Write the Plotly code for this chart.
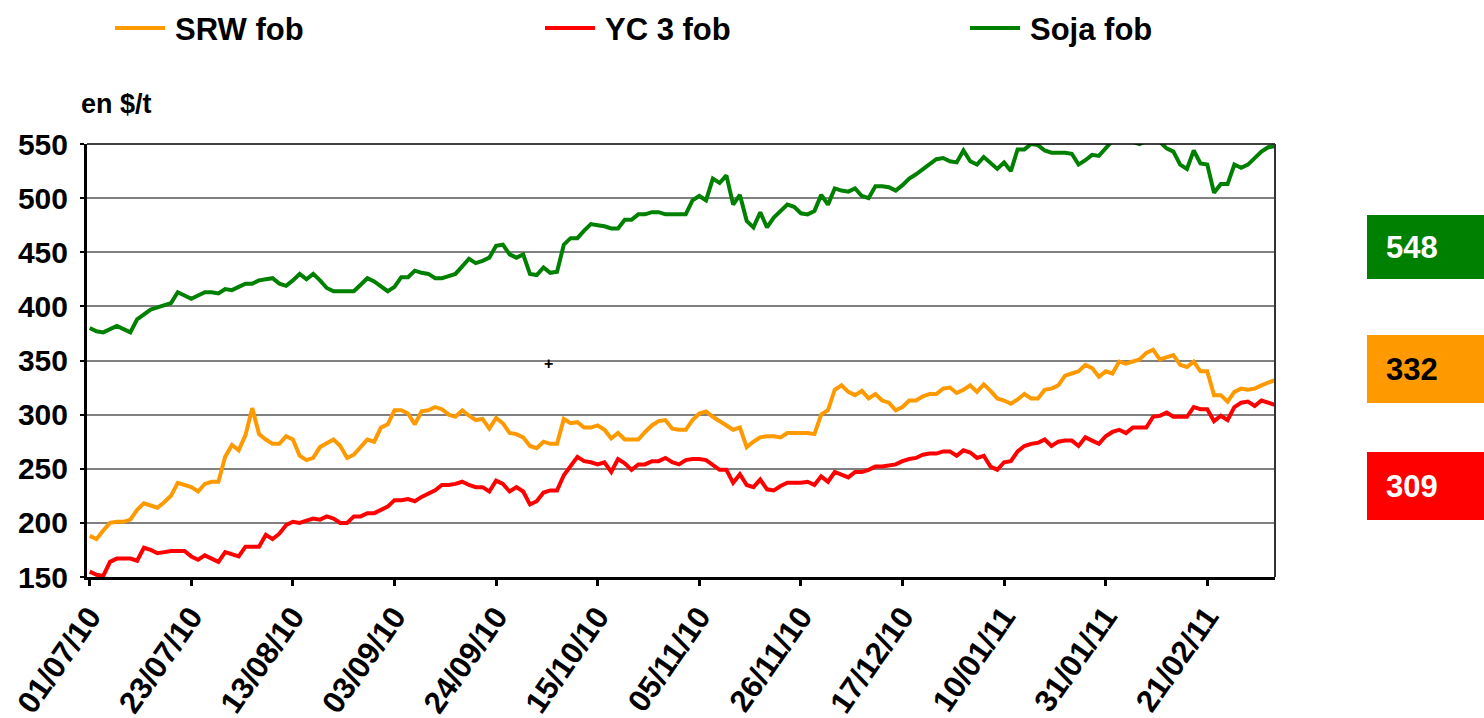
import plotly.graph_objects as go
import pandas as pd

# ---------------- data ----------------
DATES = [d.strftime("%d/%m/%y") for d in pd.bdate_range(
    "2010-07-01", "2011-03-07", freq="C", holidays=["2010-07-05", "2010-12-24"])]

TICK_LABELS = ["01/07/10", "23/07/10", "13/08/10", "03/09/10", "24/09/10", "15/10/10",
               "05/11/10", "26/11/10", "17/12/10", "10/01/11", "31/01/11", "21/02/11"]

SERIES_NAMES = ["SRW fob", "YC 3 fob", "Soja fob"]
SERIES_COLORS = ["#FF9900", "#FF0000", "#008000"]

SRW = [188, 185, 193, 200, 201, 201, 203, 212, 218, 216, 214, 219, 225, 237, 235, 233, 229, 236, 238, 238,
       261, 272, 267, 281, 306, 282, 277, 273, 273, 280, 277, 262, 258, 260, 270, 273, 277, 271, 260, 263,
       270, 277, 275, 288, 291, 304, 304, 301, 291, 303, 304, 307, 305, 300, 298, 304, 299, 295, 296, 287,
       297, 292, 283, 282, 279, 271, 269, 275, 273, 273, 296, 292, 293, 288, 288, 290, 286, 278, 283, 277,
       277, 277, 284, 290, 294, 295, 287, 286, 286, 295, 301, 303, 298, 294, 291, 286, 288, 270, 275, 279,
       280, 280, 279, 283, 283, 283, 283, 282, 300, 304, 323, 327, 321, 318, 322, 315, 319, 313, 311, 304,
       307, 313, 313, 317, 319, 319, 324, 325, 320, 323, 327, 321, 328, 322, 315, 313, 310, 314, 319, 315,
       315, 323, 324, 327, 336, 338, 340, 346, 343, 335, 340, 338, 349, 347, 349, 351, 357, 360, 351, 353,
       355, 346, 344, 349, 340, 340, 318, 318, 312, 321, 324, 323, 324, 327, 330, 332]

YC3 = [155, 152, 151, 164, 167, 167, 167, 165, 177, 175, 172, 173, 174, 174, 174, 169, 166, 170, 167, 164,
       173, 171, 169, 178, 178, 178, 189, 185, 190, 198, 201, 200, 202, 204, 203, 206, 204, 200, 200, 206,
       206, 209, 209, 212, 215, 221, 221, 222, 220, 224, 227, 230, 235, 235, 236, 238, 235, 233, 233, 229,
       239, 236, 229, 233, 229, 217, 220, 228, 230, 230, 244, 253, 261, 257, 256, 254, 256, 247, 259, 255,
       249, 254, 254, 257, 257, 260, 256, 254, 258, 259, 259, 258, 253, 249, 249, 237, 245, 235, 233, 240,
       231, 230, 234, 237, 237, 237, 238, 235, 243, 238, 247, 244, 242, 247, 247, 249, 252, 252, 253, 254,
       257, 259, 260, 263, 264, 264, 266, 266, 262, 267, 265, 260, 262, 252, 249, 256, 257, 266, 271, 273,
       274, 277, 271, 275, 276, 276, 271, 279, 276, 273, 280, 284, 286, 283, 288, 288, 288, 298, 299, 302,
       298, 298, 298, 307, 305, 305, 294, 299, 295, 307, 311, 312, 308, 313, 311, 309]

SOJA = [380, 377, 376, 379, 382, 379, 376, 388, 393, 397, 399, 401, 403, 413, 410, 407, 410, 413, 413, 412,
        416, 415, 418, 421, 421, 424, 425, 426, 421, 419, 424, 430, 425, 430, 424, 417, 414, 414, 414, 414,
        420, 426, 423, 418, 414, 418, 427, 427, 433, 431, 430, 426, 426, 428, 430, 437, 444, 440, 442, 445,
        456, 457, 448, 445, 448, 430, 429, 436, 431, 432, 457, 463, 463, 470, 476, 475, 474, 472, 472, 480,
        480, 485, 485, 487, 487, 485, 485, 485, 485, 498, 502, 498, 518, 514, 521, 494, 503, 479, 473, 487,
        473, 482, 488, 494, 492, 486, 485, 488, 503, 494, 509, 507, 506, 509, 502, 500, 511, 511, 510, 507,
        512, 518, 522, 527, 532, 536, 537, 534, 533, 544, 534, 531, 538, 532, 527, 533, 525, 545, 545, 550,
        549, 544, 542, 542, 542, 541, 531, 535, 540, 539, 546, 553, 556, 555, 552, 550, 553, 555, 552, 546,
        543, 531, 527, 544, 532, 531, 505, 513, 513, 531, 528, 531, 537, 543, 547, 548]

Y_TICKS = [150, 200, 250, 300, 350, 400, 450, 500, 550]
UNIT_LABEL = "en $/t"

# ---------------- layout helpers ----------------
PAGE_W, PAGE_H = 1484, 718
L, R, T, B = 87, 1275, 144, 577    # plot area in page pixels


def px(x):
    return (x - L) / (R - L)


def py(y):
    return (B - y) / (B - T)


FONT = "Liberation Sans, Arial, sans-serif"

fig = go.Figure()
for name, color, vals in zip(SERIES_NAMES, SERIES_COLORS, [SRW, YC3, SOJA]):
    fig.add_trace(go.Scatter(x=DATES, y=vals, mode="lines", name=name,
                             line=dict(color=color, width=4), showlegend=False))

shapes = []
annotations = []

# legend (manual)
legend_line_x = [115, 545, 970]
for name, color, lx in zip(SERIES_NAMES, SERIES_COLORS, legend_line_x):
    shapes.append(dict(type="line", xref="paper", yref="paper",
                       x0=px(lx), x1=px(lx + 50), y0=py(28), y1=py(28),
                       line=dict(color=color, width=4)))
    annotations.append(dict(text=name, xref="paper", yref="paper", x=px(lx + 58), y=py(29),
                            xanchor="left", yanchor="middle", showarrow=False,
                            font=dict(family=FONT, size=31, color="#000", weight="bold")))

# unit label
annotations.append(dict(text=UNIT_LABEL, xref="paper", yref="paper", x=px(79), y=py(104),
                        xanchor="left", yanchor="middle", showarrow=False,
                        font=dict(family=FONT, size=27, color="#000", weight="bold")))

# stray plus sign
annotations.append(dict(text="+", xref="paper", yref="paper", x=px(548), y=py(363),
                        xanchor="center", yanchor="middle", showarrow=False,
                        font=dict(family=FONT, size=16, color="#000", weight="bold")))

# value boxes
boxes = [(SOJA, "#008000", "#FFFFFF", 215, 279),
         (SRW, "#FF9900", "#000000", 335, 403),
         (YC3, "#FF0000", "#FFFFFF", 452, 520)]
for vals, bg, fc, y0, y1 in boxes:
    shapes.append(dict(type="rect", xref="paper", yref="paper",
                       x0=px(1367), x1=px(1500), y0=py(y1), y1=py(y0),
                       fillcolor=bg, line=dict(width=0)))
    annotations.append(dict(text=str(vals[-1]), xref="paper", yref="paper",
                            x=px(1412), y=py((y0 + y1) / 2), xanchor="center", yanchor="middle",
                            showarrow=False,
                            font=dict(family=FONT, size=31, color=fc, weight="bold")))

# top and right frame lines
shapes.append(dict(type="line", xref="paper", yref="paper", x0=0, x1=1, y0=1, y1=1,
                   line=dict(color="#000", width=1.5)))
shapes.append(dict(type="line", xref="paper", yref="paper", x0=1, x1=1, y0=0, y1=1,
                   line=dict(color="#333", width=2)))

fig.update_layout(
    width=PAGE_W, height=PAGE_H, autosize=False,
    margin=dict(l=L, r=PAGE_W - R, t=T, b=PAGE_H - B, pad=0, autoexpand=False),
    paper_bgcolor="white", plot_bgcolor="white",
    shapes=shapes, annotations=annotations,
    showlegend=False,
)

fig.update_xaxes(type="category", range=[-0.4, len(DATES) - 1], automargin=False,
                 tickmode="array", tickvals=TICK_LABELS, ticktext=TICK_LABELS,
                 tickangle=-55, tickfont=dict(family=FONT, size=31, color="#000", weight="bold"),
                 showline=True, linecolor="#000", linewidth=3,
                 ticks="outside", ticklen=6, tickwidth=3, tickcolor="#000",
                 showgrid=False, zeroline=False)

fig.update_yaxes(range=[150, 550], tickmode="array", tickvals=Y_TICKS, automargin=False,
                 tickfont=dict(family=FONT, size=30, color="#000", weight="bold"),
                 ticklabelstandoff=6,
                 showline=True, linecolor="#000", linewidth=3,
                 ticks="outside", ticklen=4, tickwidth=2, tickcolor="#000",
                 showgrid=True, gridcolor="#808080", gridwidth=1.5, zeroline=False)

fig.write_html("out.html", config={"displayModeBar": False},
               post_script="document.body.style.margin='0';document.body.style.overflow='hidden';")
